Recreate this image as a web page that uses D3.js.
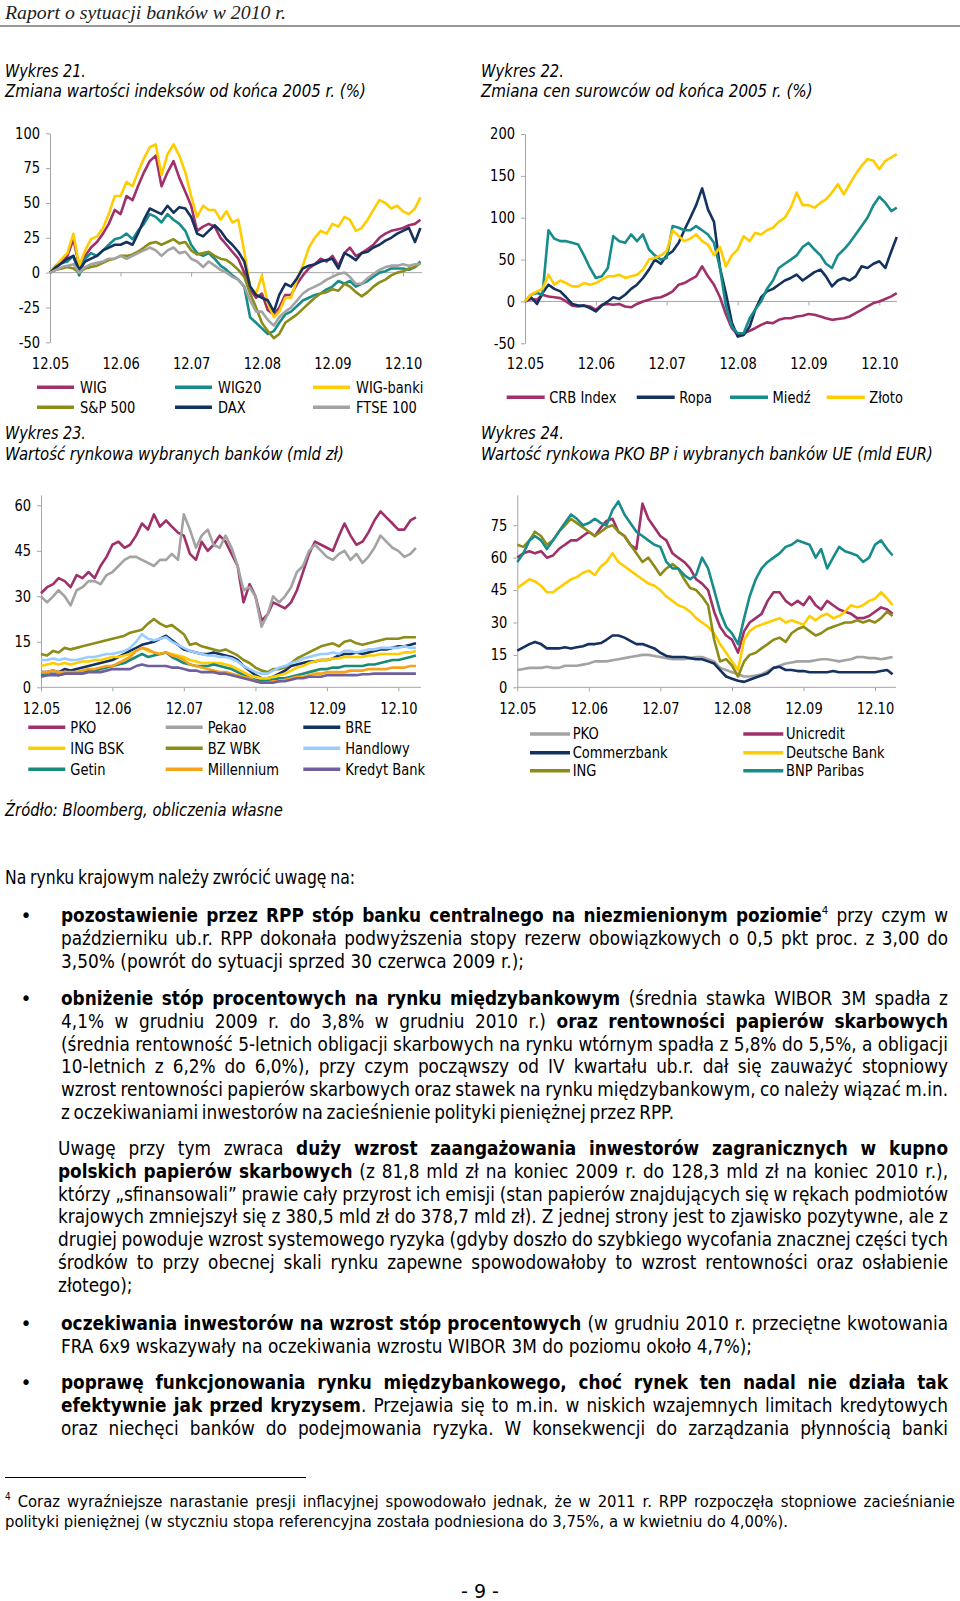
<!DOCTYPE html>
<html><head><meta charset="utf-8">
<script src="https://cdn.jsdelivr.net/npm/d3@7"></script>
<style>
html,body{margin:0;padding:0;background:#fff;overflow:hidden}
svg text{font-family:"DejaVu Sans",Verdana,sans-serif}
</style>
</head><body>
<svg id="page" width="960" height="1601"></svg>
<script>
// ---------------- DATA ----------------
const dates = d3.range(64).map(i => new Date(2005, 11 + i, 1));
const xTickDates = d3.range(6).map(i => new Date(2005 + i, 11, 1));
const xTickLabels = ["12.05","12.06","12.07","12.08","12.09","12.10"];

// Wykres 21
const c21Names = ["WIG","WIG20","WIG-banki","S&P 500","DAX","FTSE 100"];
const c21Ticks = [-50,-25,0,25,50,75,100];
const c21_WIG = [0,3,8,12,24,5,12,18,22,28,35,45,42,55,52,62,
 72,80,84,62,72,80,68,58,48,30,33,35,33,25,20,15,
 10,0,-12,-18,-15,-27,-30,-25,-16,-16,-8,-2,3,6,10,8,
 12,5,14,18,12,14,17,20,25,28,30,31,32,34,35,38];
const c21_WIG20 = [0,5,7,8,12,-2,10,14,12,16,20,24,25,28,24,30,
 35,42,40,36,42,38,35,30,20,14,12,14,10,5,2,-2,
 -5,-10,-32,-36,-40,-44,-42,-36,-30,-28,-24,-20,-18,-16,-15,-12,
 -10,-6,-8,-6,-10,-8,-6,-3,0,1,3,3,3,2,4,8];
const c21_WIGbanki = [0,5,10,14,28,5,16,24,26,32,42,55,55,65,62,72,
 82,90,92,70,85,92,84,72,55,40,48,45,45,38,44,36,
 38,15,-10,-15,-2,-22,-32,-28,-18,-18,-5,5,18,25,30,28,
 35,33,40,38,30,32,38,45,52,50,46,48,44,42,46,54];
const c21_SP500 = [0,2,3,4,3,0,3,4,5,7,9,10,12,12,13,15,
 18,21,22,20,22,24,21,22,16,13,14,15,12,10,9,6,
 2,-3,-15,-25,-36,-42,-47,-44,-36,-33,-30,-26,-22,-18,-15,-14,
 -12,-13,-8,-10,-14,-17,-14,-10,-7,-5,-2,0,1,3,4,7];
const c21_DAX = [0,4,7,10,12,2,8,10,12,16,18,20,20,22,20,28,
 38,46,44,42,48,43,47,46,40,28,26,30,34,30,24,20,
 15,8,-10,-16,-18,-20,-28,-16,-8,-10,-4,3,5,6,8,9,
 10,3,14,12,9,14,15,18,20,23,25,28,30,32,22,32];
const c21_FTSE = [0,2,4,5,6,0,4,6,7,8,10,10,12,10,12,14,
 16,18,16,12,16,18,14,15,10,8,4,8,5,2,0,-3,
 -5,-10,-20,-28,-28,-34,-38,-32,-28,-25,-20,-15,-12,-10,-8,-5,
 -3,-1,0,-3,-8,-8,-4,-1,2,4,5,5,6,5,6,6];

// Wykres 22
const c22Names = ["CRB Index","Ropa","Miedź","Złoto"];
const c22Ticks = [-50,0,50,100,150,200];
const c22_CRB = [0,3,2,8,6,5,4,0,-5,-6,-5,-6,-10,-4,-3,-4,
 -3,-6,-7,-3,0,2,4,5,8,12,20,22,26,30,42,30,
 20,5,-15,-32,-40,-38,-35,-32,-28,-25,-26,-22,-20,-20,-18,-17,
 -15,-16,-18,-20,-22,-21,-20,-18,-14,-10,-6,-2,0,3,6,10];
const c22_Ropa = [0,5,-3,10,20,15,12,5,-3,-5,-5,-8,-12,-5,0,5,
 3,8,15,20,28,38,50,45,55,60,70,85,100,115,135,110,
 95,40,10,-25,-42,-40,-30,-10,5,12,15,20,25,28,32,25,
 30,35,38,30,18,25,28,25,30,42,40,45,48,40,60,77];
const c22_Miedz = [0,8,10,8,85,75,72,72,70,68,55,40,28,30,40,78,
 72,70,80,72,80,62,55,50,52,90,88,85,85,90,85,80,
 70,40,-5,-30,-38,-38,-20,-10,0,15,25,40,45,50,55,65,
 70,62,55,45,40,55,62,70,80,90,100,115,125,118,108,112];
const c22_Zloto = [0,8,12,15,32,20,25,22,18,18,22,20,22,26,30,30,
 32,28,30,32,38,50,52,55,60,85,78,72,75,80,72,68,
 55,65,42,55,62,78,72,82,80,85,88,95,100,112,130,115,
 115,112,118,122,130,140,128,140,152,162,170,168,158,168,172,176];

// Wykres 23
const c23Names = ["PKO","Pekao","BRE","ING BSK","BZ WBK","Handlowy","Getin","Millennium","Kredyt Bank"];
const c23Ticks = [0,15,30,45,60];
const c23_PKO = [31,33,34,36,35,33,37,36,38,36,40,43,47,48,46,47,
 50,54,52,57,53,55,53,51,50,44,42,48,45,47,50,48,
 44,40,28,34,30,22,24,28,27,26,28,32,38,44,48,47,
 46,45,50,54,50,47,48,51,55,58,56,54,52,52,55,56];
const c23_Pekao = [30,28,30,32,30,27,32,33,35,35,34,37,38,40,42,43,
 43,42,41,40,42,42,44,42,57,52,46,50,52,47,46,50,
 46,40,32,33,30,20,24,30,28,30,33,38,40,45,47,45,
 43,42,44,45,42,44,41,43,46,50,48,46,45,43,44,46];
const c23_BRE = [5,5,5.5,5,6,5.5,6,6.5,7,7.5,8,8.5,9,10,11,12,
 13,14,14.5,15,16,17,15.5,14,12.5,12,11.5,11,11,11.5,11,10.5,
 10,9,7,5.5,4,3,3,3.5,4.5,5.5,7,7.5,8,8.5,8.5,9,
 9,9.5,10.5,11,11,11.5,11,11.5,12,12.5,12.5,13,13.5,13.5,14,14.5];
const c23_INGBSK = [7,7.5,8,7.5,8,7.5,8,8.5,8.5,9,9,9.5,10,10,10.5,11,
 12,13,12,11.5,11,11.5,11,10.5,10,9,8.5,8,8,8,8,7.5,
 7,6,5,4,3.5,3,3,3.5,4,4.5,5.5,6.5,7,8,8.5,9,
 9,9.5,9.5,10,10,10,10,10.5,10.5,11,11,11,11,11.5,11.5,12];
const c23_BZWBK = [11,10.5,12,11.5,13,12.5,13,13.5,14,14.5,15,15.5,16,16.5,17,18,
 18.5,19,21,22.5,21,20,20.5,19,17.5,14,14.5,13.5,13,12.5,12,12.5,
 11.5,10.5,9,8,6.5,5.5,5,6,6,6.5,8,9.5,10.5,11.5,12.5,13.5,
 14,14.5,13.5,15,15.5,14.5,14,14.5,15,15.5,16,16,16,16.5,16.5,16.5];
const c23_Handlowy = [9,9,9.5,9,9.5,9,9,9.5,10,10,10.5,11,11,11.5,12,13,
 15,17.5,16,15.5,16,16.5,15,14,13,12,11.5,11,10.5,10.5,10,10,
 9.5,8.5,7,6,5,4.5,4.5,5.5,6.5,7,8,8.5,9.5,10,10.5,11,
 11,11.5,11,12,12,11.5,12,12.5,12.5,13,13,13,13,13.5,13,13];
const c23_Getin = [4,4,4.5,4,4.5,4.5,5,5,5.5,5.5,6,6.5,7,7.5,8,9,
 10,11,10,10.5,11,11.5,10,9,8,7.5,7,7,7,7.5,7,6.5,
 6,5,4,3,2.5,2,2,2.5,3,3,3.5,4,4.5,5,5.5,6,
 6,6.5,6.5,7,7,7,7,7.5,7.5,8,8.5,9,9,9.5,10,10.5];
const c23_Millennium = [5,5,5.5,5,5,5,5,5.5,6,6,6.5,7,7,8,9,10,
 12,13,12.5,11.5,11,11.5,10.5,10,9,7.5,7,6.5,6,5.5,5,5,
 4.5,4,3.5,3,2,1.5,1.5,2,2,2.5,3,3.5,3.5,4,4.5,4.5,
 5,5,5,5,5.5,5.5,5.5,6,6,6,6,6.5,6.5,6.5,7,7];
const c23_Kredyt = [3.5,4,4,4,4.5,4.5,4.5,4.5,5,5,5,5.5,6,6,6,6,
 7,7.5,7,7,7,7,6.5,6.5,6,5.5,5.5,5,5,5,4.5,4.5,
 4,3.5,3,2.5,2,1.5,1.5,1.5,2,2,2.5,3,3,3.5,3.5,3.5,
 4,4,4,4,4,4,4.3,4.3,4.5,4.5,4.5,4.5,4.5,4.5,4.5,4.5];

// Wykres 24
const c24Names = ["PKO","Unicredit","Commerzbank","Deutsche Bank","ING","BNP Paribas"];
const c24Ticks = [0,15,30,45,60,75];
const c24_PKO = [8,8.5,9,9,9,9.5,9,9,10,10,10,10.5,11,12,12,12,
 12.5,13,13.5,14,14.5,15,15,14.5,14,13.5,13,13,13,13.5,14,14,
 13,12,9,8,7,6,5,5,5.5,6,7.5,9,10,11,11.5,12,
 12,12,12.5,13,13,12.5,12,12.5,13,14,14,13.5,13.5,13,13.5,14];
const c24_Unicredit = [60,62,63,62,63,60,61,64,66,68,68,70,72,70,74,77,
 78,72,70,66,64,85,78,74,70,68,62,60,58,55,50,48,
 45,35,28,24,22,16,26,30,32,34,40,44,44,40,38,40,
 38,42,38,36,40,38,36,35,34,32,32,33,35,37,36,34];
const c24_Commerzbank = [17,18.5,20,21,20,18,18,18,18.5,18,18.5,19,20,20,20.5,22,
 24,24,23,21.5,20,20,19,18,16,14.5,14,14,14,13.5,13,13,
 12,11,8,5,4,3,2.5,3.5,4.5,5.5,6.5,9,9.5,8,8,7.5,
 7.5,7,7,7,7,7.5,7,7,7,7,7,7,7,7.5,8,6];
const c24_Deutsche = [46,48,50,49,47,44,44,46,48,50,51,53,54,52,56,58,
 62,58,56,54,52,50,48,47,45,42,40,38,37,35,32,30,
 28,25,20,16,12,8,22,26,28,29,30,31,32,30,31,30,
 29,33,31,33,34,32,33,35,38,37,38,40,41,44,41,38];
const c24_ING = [66,65,68,72,70,66,68,72,75,78,76,74,72,70,72,74,
 75,72,70,66,62,58,60,56,52,55,57,55,50,46,45,42,
 38,22,12,13,10,5,12,15,16,18,20,22,23,21,25,27,
 28,26,24,25,27,28,29,30,30,31,30,31,30,32,35,33];
const c24_BNP = [58,62,68,70,68,64,68,72,76,80,78,75,76,78,76,75,
 82,86,80,76,72,70,68,66,65,58,55,55,52,50,52,60,
 55,45,35,28,25,20,32,42,50,55,58,60,62,65,66,68,
 67,66,60,64,55,60,65,63,62,61,58,60,66,68,64,61];

// ---------------- STYLE ----------------
const COL = {mag:"#A0306A", teal:"#178C8A", yel:"#FFCC00", olive:"#8C8C18", navy:"#14325F",
  gray:"#A3A3A3", lblue:"#99CCFF", orange:"#F5A31A", purple:"#6F5F9F", getin:"#178A78"};
const AXIS = "#A6A6A6";
const FONT = '"DejaVu Sans", Verdana, sans-serif';
const K = 0.87; // horizontal squeeze to mimic Tahoma

const svg = d3.select("#page");

function squeeze(sel, k){
  sel.each(function(){
    const w = this.getComputedTextLength();
    if (w > 0) d3.select(this).attr("textLength", w * k).attr("lengthAdjust", "spacingAndGlyphs");
  });
}

// text placed at (x,y) and horizontally scaled to width W
function fitText(parent, x, y, W, str, attrs){
  const t = parent.append("text").attr("x", 0).attr("y", 0).text(str);
  Object.entries(attrs || {}).forEach(([k, v]) => t.style(k, v));
  const w = t.node().getComputedTextLength();
  t.attr("transform", `translate(${x},${y}) scale(${W / w},1)`);
  return t;
}

function drawChart(o){
  const g = svg.append("g");
  const x = d3.scaleTime().domain([xTickDates[0], xTickDates[5]]).range([o.x0, o.x60]);
  const y = d3.scaleLinear().domain(o.yDomain).range(o.yRange);

  // y axis
  const ya = g.append("g").attr("transform", `translate(${o.x0},0)`)
    .call(d3.axisLeft(y).tickValues(o.yTicks).tickSize(4).tickPadding(6).tickSizeOuter(0).tickFormat(d => String(d)));
  ya.attr("font-size", 15).attr("font-family", FONT);
  ya.selectAll("path,line").attr("stroke", AXIS);
  ya.selectAll("text").attr("fill", "#000");
  squeeze(ya.selectAll("text"), K);

  // x axis line (at zero) + ticks
  const y0 = y(0);
  g.append("line").attr("x1", o.x0).attr("x2", o.xRight).attr("y1", y0).attr("y2", y0).attr("stroke", AXIS);
  const xt = g.append("g").attr("transform", `translate(0,${y0})`)
    .call(d3.axisBottom(x).tickValues(xTickDates).tickSize(4).tickFormat(""));
  xt.select(".domain").remove();
  xt.selectAll("line").attr("stroke", AXIS);

  // x labels at the bottom
  const xl = g.append("g").attr("transform", `translate(0,${o.xLabelY})`)
    .call(d3.axisBottom(x).tickValues(xTickDates).tickSize(0).tickPadding(0).tickFormat((d, i) => xTickLabels[i]));
  xl.attr("font-size", 15).attr("font-family", FONT);
  xl.select(".domain").remove();
  xl.selectAll("text").attr("dy", "0.35em").attr("fill", "#000");
  squeeze(xl.selectAll("text"), K);

  // series
  const line = d3.line().x((d, i) => x(dates[i])).y(d => y(d)).curve(d3.curveLinear);
  o.series.forEach(s => {
    g.append("path").attr("d", line(s.values)).attr("fill", "none")
      .attr("stroke", s.color).attr("stroke-width", 2.6).attr("stroke-linejoin", "round");
  });

  // legend
  o.series.forEach((s, i) => {
    const col = i % o.leg.cols.length, row = Math.floor(i / o.leg.cols.length);
    const lx = o.leg.cols[col], ly = o.leg.rows[row];
    g.append("line").attr("x1", lx).attr("x2", lx + o.leg.len).attr("y1", ly).attr("y2", ly)
      .attr("stroke", s.color).attr("stroke-width", 3.5);
    const t = g.append("text").attr("x", lx + o.leg.off).attr("y", ly).attr("dy", "0.35em")
      .attr("font-size", 15).attr("fill", "#000").text(s.name);
    squeeze(t, K);
  });
}

// Chart 21
drawChart({
  x0: 50, x60: 403, xRight: 422, yDomain: [-50, 100], yRange: [342.3, 133.3], yTicks: c21Ticks, xLabelY: 364,
  series: [
    {name: c21Names[0], color: COL.mag, values: c21_WIG},
    {name: c21Names[1], color: COL.teal, values: c21_WIG20},
    {name: c21Names[2], color: COL.yel, values: c21_WIGbanki},
    {name: c21Names[3], color: COL.olive, values: c21_SP500},
    {name: c21Names[4], color: COL.navy, values: c21_DAX},
    {name: c21Names[5], color: COL.gray, values: c21_FTSE}
  ],
  leg: {cols: [37, 175, 313], rows: [387.3, 407.3], len: 37, off: 43}
});
// Chart 22
drawChart({
  x0: 525, x60: 879.3, xRight: 897, yDomain: [-50, 200], yRange: [343.3, 134], yTicks: c22Ticks, xLabelY: 364,
  series: [
    {name: c22Names[0], color: COL.mag, values: c22_CRB},
    {name: c22Names[1], color: COL.navy, values: c22_Ropa},
    {name: c22Names[2], color: COL.teal, values: c22_Miedz},
    {name: c22Names[3], color: COL.yel, values: c22_Zloto}
  ],
  leg: {cols: [506.7, 636.7, 730, 826.7], rows: [397.3], len: 38, off: 42.5}
});
// Chart 23
drawChart({
  x0: 41, x60: 398.3, xRight: 421, yDomain: [0, 63.4], yRange: [687.3, 495], yTicks: c23Ticks, xLabelY: 708.3,
  series: [
    {name: c23Names[0], color: COL.mag, values: c23_PKO},
    {name: c23Names[1], color: COL.gray, values: c23_Pekao},
    {name: c23Names[2], color: COL.navy, values: c23_BRE},
    {name: c23Names[3], color: COL.yel, values: c23_INGBSK},
    {name: c23Names[4], color: COL.olive, values: c23_BZWBK},
    {name: c23Names[5], color: COL.lblue, values: c23_Handlowy},
    {name: c23Names[6], color: COL.getin, values: c23_Getin},
    {name: c23Names[7], color: COL.orange, values: c23_Millennium},
    {name: c23Names[8], color: COL.purple, values: c23_Kredyt}
  ],
  leg: {cols: [28.3, 165.7, 303.3], rows: [727.3, 748.3, 769.3], len: 37, off: 42}
});
// Chart 24
drawChart({
  x0: 517.3, x60: 875, xRight: 896, yDomain: [0, 89], yRange: [687.3, 495], yTicks: c24Ticks, xLabelY: 708.3,
  series: [
    {name: c24Names[0], color: COL.gray, values: c24_PKO},
    {name: c24Names[1], color: COL.mag, values: c24_Unicredit},
    {name: c24Names[2], color: COL.navy, values: c24_Commerzbank},
    {name: c24Names[3], color: COL.yel, values: c24_Deutsche},
    {name: c24Names[4], color: COL.olive, values: c24_ING},
    {name: c24Names[5], color: COL.teal, values: c24_BNP}
  ],
  leg: {cols: [530, 743.3], rows: [734, 752.7, 770.7], len: 40, off: 42.7}
});

// ---------------- PAGE TEXT ----------------
fitText(svg, 5, 18.5, 281, "Raport o sytuacji banków w 2010 r.",
  {"font-family": '"Liberation Serif", serif', "font-style": "italic", "font-size": "19px", "fill": "#222"});
svg.append("line").attr("x1", 0).attr("x2", 960).attr("y1", 26).attr("y2", 26).attr("stroke", "#333").attr("stroke-width", 1.2);

const titles = [
  {x: 5, y: 77.3, w: 81, t: "Wykres 21."},
  {x: 5, y: 96.7, w: 361, t: "Zmiana wartości indeksów od końca 2005 r. (%)"},
  {x: 481, y: 77.3, w: 83, t: "Wykres 22."},
  {x: 481, y: 96.7, w: 332, t: "Zmiana cen surowców od końca 2005 r. (%)"},
  {x: 5, y: 438.5, w: 81, t: "Wykres 23."},
  {x: 5, y: 459.5, w: 339, t: "Wartość rynkowa wybranych banków (mld zł)"},
  {x: 481, y: 438.5, w: 83, t: "Wykres 24."},
  {x: 481, y: 459.5, w: 452, t: "Wartość rynkowa PKO BP i wybranych banków UE (mld EUR)"},
  {x: 5, y: 815.5, w: 278, t: "Źródło: Bloomberg, obliczenia własne"}
];
titles.forEach(d => fitText(svg, d.x, d.y, d.w, d.t, {"font-size": "18px", "font-style": "italic", "fill": "#000"}));

// body lines: segments [text, style] n=normal b=bold s=superscript
const R = 948;
const bodyLines = [
  {x0: 5, x1: 355, y: 884, segs: [["Na rynku krajowym należy zwrócić uwagę na:", "n"]]},
  {x0: 61, x1: R, y: 922, bullet: true, segs: [["pozostawienie przez RPP stóp banku centralnego na niezmienionym poziomie", "b"], ["4", "s"], [" przy czym w", "n"]]},
  {x0: 61, x1: R, y: 944.8, segs: [["październiku ub.r. RPP dokonała podwyższenia stopy rezerw obowiązkowych o 0,5 pkt proc. z 3,00 do", "n"]]},
  {x0: 61, x1: 524, y: 967.6, segs: [["3,50% (powrót do sytuacji sprzed 30 czerwca 2009 r.);", "n"]]},
  {x0: 61, x1: R, y: 1005, bullet: true, segs: [["obniżenie stóp procentowych na rynku międzybankowym", "b"], [" (średnia stawka WIBOR 3M spadła z", "n"]]},
  {x0: 61, x1: R, y: 1027.8, segs: [["4,1% w grudniu 2009 r. do 3,8% w grudniu 2010 r.) ", "n"], ["oraz rentowności papierów skarbowych", "b"]]},
  {x0: 61, x1: R, y: 1050.6, segs: [["(średnia rentowność 5-letnich obligacji skarbowych na rynku wtórnym spadła z 5,8% do 5,5%, a obligacji", "n"]]},
  {x0: 61, x1: R, y: 1073.4, segs: [["10-letnich z 6,2% do 6,0%), przy czym począwszy od IV kwartału ub.r. dał się zauważyć stopniowy", "n"]]},
  {x0: 61, x1: R, y: 1096.2, segs: [["wzrost rentowności papierów skarbowych oraz stawek na rynku międzybankowym, co należy wiązać m.in.", "n"]]},
  {x0: 61, x1: 674, y: 1119, segs: [["z oczekiwaniami inwestorów na zacieśnienie polityki pieniężnej przez RPP.", "n"]]},
  {x0: 58, x1: R, y: 1155, segs: [["Uwagę przy tym zwraca ", "n"], ["duży wzrost zaangażowania inwestorów zagranicznych w kupno", "b"]]},
  {x0: 58, x1: R, y: 1177.8, segs: [["polskich papierów skarbowych", "b"], [" (z 81,8 mld zł na koniec 2009 r. do 128,3 mld zł na koniec 2010 r.),", "n"]]},
  {x0: 58, x1: R, y: 1200.6, segs: [["którzy „sfinansowali” prawie cały przyrost ich emisji (stan papierów znajdujących się w rękach podmiotów", "n"]]},
  {x0: 58, x1: R, y: 1223.4, segs: [["krajowych zmniejszył się z 380,5 mld zł do 378,7 mld zł). Z jednej strony jest to zjawisko pozytywne, ale z", "n"]]},
  {x0: 58, x1: R, y: 1246.2, segs: [["drugiej powoduje wzrost systemowego ryzyka (gdyby doszło do szybkiego wycofania znacznej części tych", "n"]]},
  {x0: 58, x1: R, y: 1269, segs: [["środków to przy obecnej skali rynku zapewne spowodowałoby to wzrost rentowności oraz osłabienie", "n"]]},
  {x0: 58, x1: 131, y: 1291.8, segs: [["złotego);", "n"]]},
  {x0: 61, x1: R, y: 1330, bullet: true, segs: [["oczekiwania inwestorów na wzrost stóp procentowych", "b"], [" (w grudniu 2010 r. przeciętne kwotowania", "n"]]},
  {x0: 61, x1: 752, y: 1352.8, segs: [["FRA 6x9 wskazywały na oczekiwania wzrostu WIBOR 3M do poziomu około 4,7%);", "n"]]},
  {x0: 61, x1: R, y: 1389, bullet: true, segs: [["poprawę funkcjonowania rynku międzybankowego, choć rynek ten nadal nie działa tak", "b"]]},
  {x0: 61, x1: R, y: 1411.8, segs: [["efektywnie jak przed kryzysem", "b"], [". Przejawia się to m.in. w niskich wzajemnych limitach kredytowych", "n"]]},
  {x0: 61, x1: R, y: 1434.6, segs: [["oraz niechęci banków do podejmowania ryzyka. W konsekwencji do zarządzania płynnością banki", "n"]]}
];
const footLines = [
  {x0: 5, x1: 955, y: 1507, segs: [["4", "s"], [" Coraz wyraźniejsze narastanie presji inflacyjnej spowodowało jednak, że w 2011 r. RPP rozpoczęła stopniowe zacieśnianie", "n"]]},
  {x0: 5, x1: 788, y: 1527, segs: [["polityki pieniężnej (w styczniu stopa referencyjna została podniesiona do 3,75%, a w kwietniu do 4,00%).", "n"]]}
];

function tokenize(segs){
  const words = []; let cur = null; let fresh = true;
  segs.forEach(([t, st]) => {
    const parts = t.split(" ");
    parts.forEach((p, i) => {
      if (i > 0) fresh = true;
      if (p === "") return;
      if (fresh || !cur) { cur = []; words.push(cur); fresh = false; }
      cur.push([p, st]);
    });
  });
  return words;
}

// one <text> per line, words as positioned tspans, whole line squeezed horizontally
const gBody = svg.append("g");
function layoutLine(line, F, k, justify){
  const words = tokenize(line.segs);
  const t = gBody.append("text").attr("font-size", F).attr("fill", "#000");
  const wEls = words.map(w => {
    const wt = t.append("tspan").attr("y", 0);
    w.forEach(([s, st]) => {
      const ts = wt.append("tspan").text(s);
      if (st === "b") ts.attr("font-weight", "bold");
      if (st === "s") ts.attr("font-size", F * 0.6).attr("dy", -F * 0.42);
    });
    return wt;
  });
  const nat = wEls.map(wt => wt.node().getComputedTextLength());
  const S = d3.sum(nat);
  const n = wEls.length;
  const W = line.x1 - line.x0;
  let s = k, gap = 0;
  if (n > 1) {
    gap = (W - S * s) / (n - 1);
    const minGap = F * 0.2;
    if (gap < minGap) { s = (W - minGap * (n - 1)) / S; gap = minGap; }
  }
  let xx = 0;
  wEls.forEach((wt, i) => { wt.attr("x", xx); xx += nat[i] + gap / s; });
  t.attr("transform", `translate(${line.x0},${line.y}) scale(${s},1)`);
  if (line.bullet) {
    gBody.append("text").attr("x", 26).attr("y", line.y).attr("text-anchor", "middle")
      .attr("font-size", F).attr("fill", "#000").text("•");
  }
}
bodyLines.forEach(l => layoutLine(l, 18.8, 0.9));
footLines.forEach(l => layoutLine(l, 16.5, 0.9));

svg.append("line").attr("x1", 5).attr("x2", 306).attr("y1", 1477.5).attr("y2", 1477.5).attr("stroke", "#000").attr("stroke-width", 1.2);
svg.append("text").attr("x", 480).attr("y", 1598).attr("text-anchor", "middle").attr("font-size", 19).attr("fill", "#000").text("- 9 -");
</script>
</body></html>
